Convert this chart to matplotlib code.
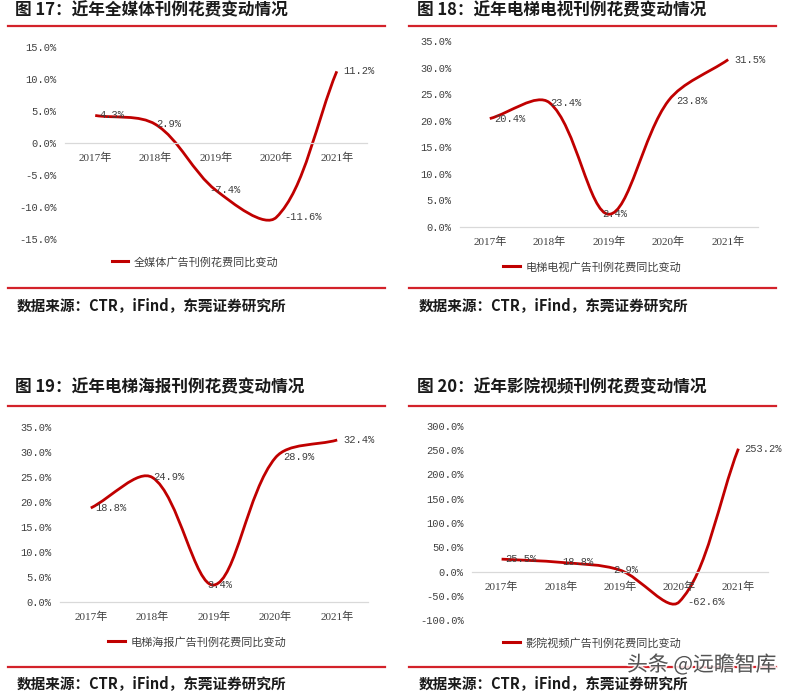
import numpy as np
import matplotlib
matplotlib.use('Agg')
import matplotlib.pyplot as plt
from matplotlib.path import Path
from matplotlib.patches import PathPatch
from matplotlib.lines import Line2D
from matplotlib.ticker import FuncFormatter
import matplotlib.patheffects as pe

plt.rcParams['font.family'] = ['Noto Sans CJK SC', 'DejaVu Sans']

# -- data --
YEARS = ['2017年', '2018年', '2019年', '2020年', '2021年']
ALL_MEDIA = [4.3, 2.9, -7.4, -11.6, 11.2]
ELEV_TV = [20.4, 23.4, 2.4, 23.8, 31.5]
ELEV_POSTER = [18.8, 24.9, 3.4, 28.9, 32.4]
CINEMA = [25.5, 18.8, 2.9, -62.6, 253.2]

TITLES = ['图 17：近年全媒体刊例花费变动情况', '图 18：近年电梯电视刊例花费变动情况',
          '图 19：近年电梯海报刊例花费变动情况', '图 20：近年影院视频刊例花费变动情况']
LEGENDS = ['全媒体广告刊例花费同比变动', '电梯电视广告刊例花费同比变动',
           '电梯海报广告刊例花费同比变动', '影院视频广告刊例花费同比变动']
SOURCE = '数据来源：CTR，iFind，东莞证券研究所'
WATERMARK = '头条 @远瞻智库'

# -- style --
W, H = 787, 697
LINE_RED = '#C00000'
RULE_RED = '#D3222A'
GREY = '#404040'
MONO = ['Liberation Mono', 'DejaVu Sans Mono']
SERIF = ['Liberation Serif', 'Noto Sans CJK SC']
LABEL_DX = [4, 1, -7, 8, 6]  # px shift of value labels


def fx(px):
    return px / W


def fy(py):
    return 1 - py / H


def smooth_curve(ax, ys, color):
    xs = np.arange(len(ys))
    pts = ax.transData.transform(np.column_stack([xs, ys]))
    n = len(pts)
    verts, codes = [pts[0]], [Path.MOVETO]
    for i in range(n - 1):
        p0 = pts[i - 1] if i > 0 else pts[i]
        p1, p2 = pts[i], pts[i + 1]
        p3 = pts[i + 2] if i + 2 < n else pts[i + 1]
        d01 = np.linalg.norm(p1 - p0)
        d12 = np.linalg.norm(p2 - p1)
        d23 = np.linalg.norm(p3 - p2)
        c1 = p1 + (p2 - p0) * (d12 / (d01 + d12)) / 3
        c2 = p2 - (p3 - p1) * (d12 / (d12 + d23)) / 3
        verts += [c1, c2, p2]
        codes += [Path.CURVE4] * 3
    verts = ax.transData.inverted().transform(np.array(verts))
    ax.add_patch(PathPatch(Path(verts, codes), fill=False, ec=color,
                           lw=2.0, clip_on=False, capstyle='butt'))


def panel(fig, box, ys, ylim, step, title, legend, tx, ty, leg_xy, rules, src_y):
    left, top, right, bottom = box
    ax = fig.add_axes([fx(left), fy(bottom), fx(right - left), (bottom - top) / H])
    ax.set_xlim(-0.5, len(ys) - 0.5)
    ax.set_ylim(*ylim)
    for s in ['top', 'right', 'left']:
        ax.spines[s].set_visible(False)
    ax.spines['bottom'].set_position(('data', 0))
    ax.spines['bottom'].set_color('#d9d9d9')
    ax.spines['bottom'].set_linewidth(0.9)
    ax.set_xticks(range(len(ys)))
    ax.set_xticklabels(YEARS, fontfamily=SERIF, fontsize=8, color=GREY)
    ax.set_yticks(np.arange(ylim[0], ylim[1] + step / 2, step))
    ax.yaxis.set_major_formatter(FuncFormatter(lambda v, p: f'{v:.1f}%'))
    for lab in ax.get_yticklabels():
        lab.set_fontfamily(MONO)
    ax.tick_params(axis='y', length=0, pad=6, labelsize=7.5, labelcolor=GREY)
    ax.tick_params(axis='x', length=0, pad=7)
    ax.patch.set_alpha(0)

    smooth_curve(ax, ys, LINE_RED)
    for i, v in enumerate(ys):
        ax.annotate(f'{v:.1f}%', (i, v), xytext=(LABEL_DX[i] * 0.72, 0),
                    textcoords='offset points', ha='left', va='center',
                    fontsize=7.5, color=GREY, fontfamily=MONO)

    ax.legend(handles=[Line2D([], [], color=LINE_RED, lw=2.2)], labels=[legend],
              loc='center', bbox_to_anchor=(fx(leg_xy[0]), fy(leg_xy[1])),
              bbox_transform=fig.transFigure, frameon=False, fontsize=8,
              labelcolor=GREY, handlelength=1.5, handletextpad=0.5)

    fig.text(fx(tx), fy(ty), title, ha='left', va='center', fontsize=12,
             fontweight='bold', color='#1a1a1a')
    x0, x1, y_top, y_bot = rules
    for y in (y_top, y_bot):
        fig.add_artist(Line2D([fx(x0), fx(x1)], [fy(y), fy(y)], color=RULE_RED,
                              lw=1.6, transform=fig.transFigure))
    fig.text(fx(tx + 2), fy(src_y), SOURCE, ha='left', va='center', fontsize=10.5,
             fontweight='bold', color='#1a1a1a')
    return ax


fig = plt.figure(figsize=(W / 100, H / 100), dpi=100)
fig.patch.set_facecolor('white')

panel(fig, (65, 47, 367, 239), ALL_MEDIA, (-15, 15), 5, TITLES[0], LEGENDS[0],
      15, 10, (195, 262), (8, 385, 26, 288), 305)
panel(fig, (460, 41, 758, 227), ELEV_TV, (0, 35), 5, TITLES[1], LEGENDS[1],
      417, 10, (592, 267), (409, 776, 26, 288), 305)
panel(fig, (60, 427, 368, 602), ELEV_POSTER, (0, 35), 5, TITLES[2], LEGENDS[2],
      15, 387, (197, 642), (8, 385, 406, 667), 683)
panel(fig, (472, 426, 768, 620), CINEMA, (-100, 300), 50, TITLES[3], LEGENDS[3],
      417, 387, (592, 643), (409, 776, 406, 667), 683)

fig.text(fx(627), fy(665), WATERMARK, ha='left', va='center', fontsize=15,
         color='#3a3a3a', alpha=0.85,
         path_effects=[pe.withStroke(linewidth=2.5, foreground='white')])

fig.savefig('out.png', dpi=100, facecolor='white')
